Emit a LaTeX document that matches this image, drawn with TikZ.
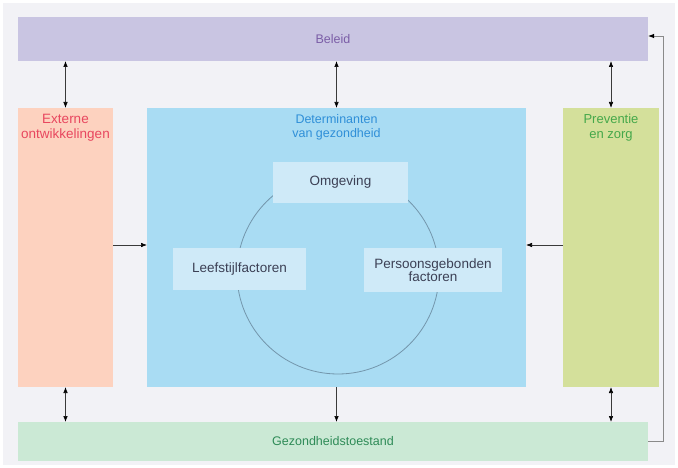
\documentclass[tikz,border=0pt]{standalone}
\usepackage{fontspec}
\setmainfont{Liberation Sans}
\usetikzlibrary{arrows.meta}
\definecolor{bgcol}{HTML}{F2F2F6}
\definecolor{beleidfill}{HTML}{C9C5E2}
\definecolor{beleidtext}{HTML}{7B5EA7}
\definecolor{extfill}{HTML}{FDD2BF}
\definecolor{exttext}{HTML}{E8475F}
\definecolor{detfill}{HTML}{A9DCF3}
\definecolor{dettext}{HTML}{2F8FD8}
\definecolor{prevfill}{HTML}{D4E09B}
\definecolor{prevtext}{HTML}{45A84A}
\definecolor{gezfill}{HTML}{CBE9D5}
\definecolor{geztext}{HTML}{2E8B57}
\definecolor{innerfill}{HTML}{CFEAF8}
\definecolor{innertext}{HTML}{3C4055}
\definecolor{ringcol}{HTML}{7396AC}
\definecolor{linkcol}{HTML}{3A3A3A}
\definecolor{loopcol}{HTML}{8A8A8A}
\begin{document}
\begin{tikzpicture}[x=1pt,y=-1pt,
  every node/.style={font=\fontsize{12.5}{14}\selectfont, inner sep=0pt, outer sep=0pt},
  band/.style={rectangle, minimum width=630pt},
  column/.style={rectangle, minimum height=279pt},
  title/.style={align=center, anchor=north},
  factor/.style={rectangle, fill=innerfill, text=innertext, align=center,
    font=\fontsize{13.5}{12.5}\selectfont},
  tip/.style={Latex[length=6pt,width=4.5pt,black]},
  link/.style={draw=linkcol, line width=0.6pt, -{Latex[length=6pt,width=4.5pt,black]}},
  twoway/.style={draw=linkcol, line width=0.6pt,
    {Latex[length=6pt,width=4.5pt,black]}-{Latex[length=6pt,width=4.5pt,black]}},
  feedback/.style={draw=loopcol, line width=0.9pt, -{Latex[length=6pt,width=4.5pt,black]}}]
  % canvas
  \useasboundingbox (0,0) rectangle (678,468);
  \fill[white] (0,0) rectangle (678,468);
  \fill[bgcol] (3,3) rectangle (675,465);

  % outer frame of the model
  \node[band, fill=beleidfill, text=beleidtext, minimum height=44pt] (beleid) at (333,39) {Beleid};
  \node[column, fill=extfill, minimum width=95pt] (ext) at (65.5,247.5) {};
  \node[column, fill=detfill, minimum width=379pt] (det) at (336.5,247.5) {};
  \node[column, fill=prevfill, minimum width=96pt] (prev) at (611,247.5) {};
  \node[band, fill=gezfill, text=geztext, minimum height=39pt] (gez) at (333,441.5) {Gezondheidstoestand};

  % column titles
  \node[title, text=exttext, font=\fontsize{13.5}{15}\selectfont] (exttitle) at ([yshift=-6pt]ext.north) {Externe\\ontwikkelingen};
  \node[title, text=dettext] (dettitle) at ([yshift=-6pt]det.north) {Determinanten\\van gezondheid};
  \node[title, text=prevtext, font=\fontsize{13}{15}\selectfont] (prevtitle) at ([yshift=-6pt]prev.north) {Preventie\\en zorg};

  % determinants ring
  \draw[ringcol, line width=0.8pt] (338,273) circle[radius=101pt];
  \node[factor, minimum width=135pt, minimum height=41pt] (omg) at (340.5,182.5) {Omgeving};
  \node[factor, minimum width=133pt, minimum height=42pt] (leef) at (239.5,269) {Leefstijlfactoren};
  \node[factor, minimum width=138pt, minimum height=44pt] (pers) at (433,270) {Persoonsgebonden\\factoren};

  % connections
  \draw[twoway] (ext.north |- beleid.south) -- (ext.north);
  \draw[twoway] (det.north |- beleid.south) -- (det.north);
  \draw[twoway] (prev.north |- beleid.south) -- (prev.north);
  \draw[twoway] (ext.south) -- (ext.south |- gez.north);
  \draw[link] (det.south) -- (det.south |- gez.north);
  \draw[twoway] (prev.south) -- (prev.south |- gez.north);
  \draw[link] ([yshift=2.5pt]ext.east) -- ([yshift=2.5pt]det.west);
  \draw[link] ([yshift=2.5pt]prev.west) -- ([yshift=2.5pt]det.east);
  \draw[feedback] (gez.east) -- ++(15,0) |- ([yshift=3pt]beleid.east);
\end{tikzpicture}
\end{document}
